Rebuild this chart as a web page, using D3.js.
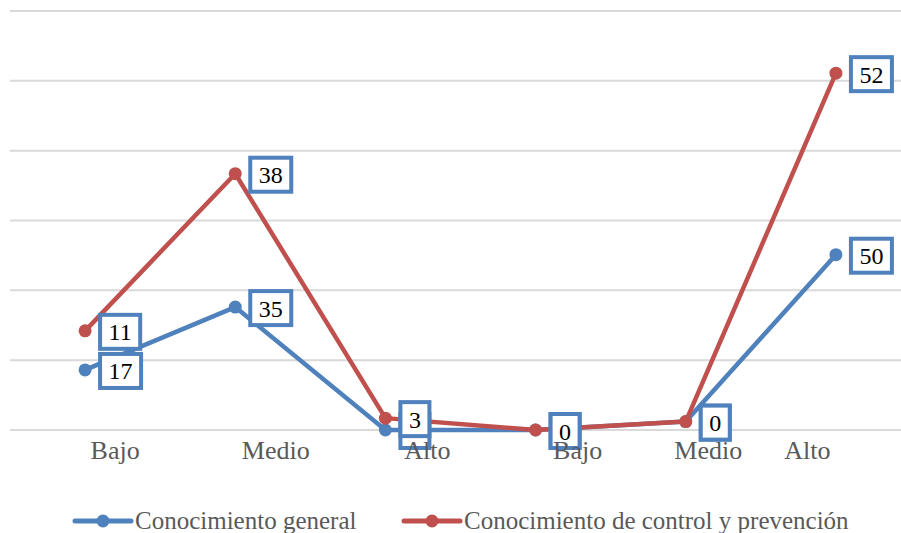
<!DOCTYPE html>
<html>
<head>
<meta charset="utf-8">
<script src="https://cdn.jsdelivr.net/npm/d3@7"></script>
<style>
  html, body { margin: 0; padding: 0; background: #ffffff; }
  svg { display: block; }
</style>
</head>
<body>
<svg id="chart" width="901" height="533"></svg>
<script>
// ---- data ----
const categories = ["Bajo", "Medio", "Alto", "Bajo", "Medio", "Alto"];
const seriesNames = ["Conocimiento general", "Conocimiento de control y prevención"];
const generalValues = [8.6, 17.6, 0, 0, 1.2, 25.1];
const controlValues = [14.2, 36.7, 1.7, 0, 1.2, 51.1];
// labels hidden under the other series' box are left empty
const generalLabels = ["17", "35", "", "", "", "50"];
const controlLabels = ["11", "38", "3", "0", "0", "52"];
const yTicks = [0, 10, 20, 30, 40, 50, 60];

// ---- layout (not data) ----
const plot = { left: 10, right: 911, top: 11, bottom: 430 };
// category-label positions, in category units along the x scale
const catLabelPos = [0.20, 1.27, 2.28, 3.28, 4.15, 4.81];
const colors = ["#4f81bd", "#c0504d"];
const serif = "'Liberation Serif', 'Times New Roman', serif";

const svg = d3.select("#chart");

const x = d3.scaleLinear().domain([-0.5, categories.length - 0.5]).range([plot.left, plot.right]);
const y = d3.scaleLinear().domain([0, 60]).range([plot.bottom, plot.top]);

// gridlines
svg.append("g").selectAll("line").data(yTicks).join("line")
  .attr("x1", plot.left).attr("x2", plot.right)
  .attr("y1", d => y(d)).attr("y2", d => y(d))
  .attr("stroke", "#d9d9d9").attr("stroke-width", 2);

const series = [
  { name: seriesNames[0], values: generalValues, labels: generalLabels, color: colors[0] },
  { name: seriesNames[1], values: controlValues, labels: controlLabels, color: colors[1] }
];

const line = d3.line().x((d, i) => x(i)).y(d => y(d));

// lines and markers
series.forEach(s => {
  const g = svg.append("g");
  g.append("path").datum(s.values)
    .attr("d", line)
    .attr("fill", "none")
    .attr("stroke", s.color)
    .attr("stroke-width", 4.5)
    .attr("stroke-linejoin", "round")
    .attr("stroke-linecap", "round");
  g.selectAll("circle").data(s.values).join("circle")
    .attr("cx", (d, i) => x(i)).attr("cy", d => y(d))
    .attr("r", 6.5).attr("fill", s.color);
});

// data labels (boxed)
series.forEach(s => {
  const g = svg.append("g");
  s.values.forEach((v, i) => {
    const px = x(i), py = y(v);
    const lg = g.append("g");
    const rect = lg.append("rect");
    const t = lg.append("text")
      .text(s.labels[i])
      .attr("font-family", serif)
      .attr("font-size", 24)
      .attr("fill", "#000")
      .attr("text-anchor", "middle");
    const tw = s.labels[i] ? t.node().getComputedTextLength() : 12;
    const bw = tw + 17, bh = 34;
    const bx = px + 15, cy = py + 1;
    rect.attr("x", bx).attr("y", cy - bh / 2)
      .attr("width", bw).attr("height", bh)
      .attr("fill", "#fff")
      .attr("stroke", colors[0])
      .attr("stroke-width", 4);
    t.attr("x", bx + bw / 2).attr("y", cy + 8.5);
  });
});

// category labels
svg.append("g").selectAll("text").data(categories).join("text")
  .attr("x", (d, i) => x(catLabelPos[i]))
  .attr("y", 458.5)
  .attr("text-anchor", "middle")
  .attr("font-family", serif)
  .attr("font-size", 26)
  .attr("fill", "#595959")
  .text(d => d);

// legend
const legendX = [75, 404];
const lg = svg.append("g");
series.forEach((s, i) => {
  const lx = legendX[i], ly = 521;
  lg.append("line")
    .attr("x1", lx).attr("x2", lx + 56)
    .attr("y1", ly).attr("y2", ly)
    .attr("stroke", s.color).attr("stroke-width", 5)
    .attr("stroke-linecap", "round");
  lg.append("circle").attr("cx", lx + 28).attr("cy", ly).attr("r", 6.5).attr("fill", s.color);
  lg.append("text")
    .attr("x", lx + 60).attr("y", 529)
    .attr("font-family", serif)
    .attr("font-size", 25)
    .attr("fill", "#595959")
    .text(s.name);
});
</script>
</body>
</html>
